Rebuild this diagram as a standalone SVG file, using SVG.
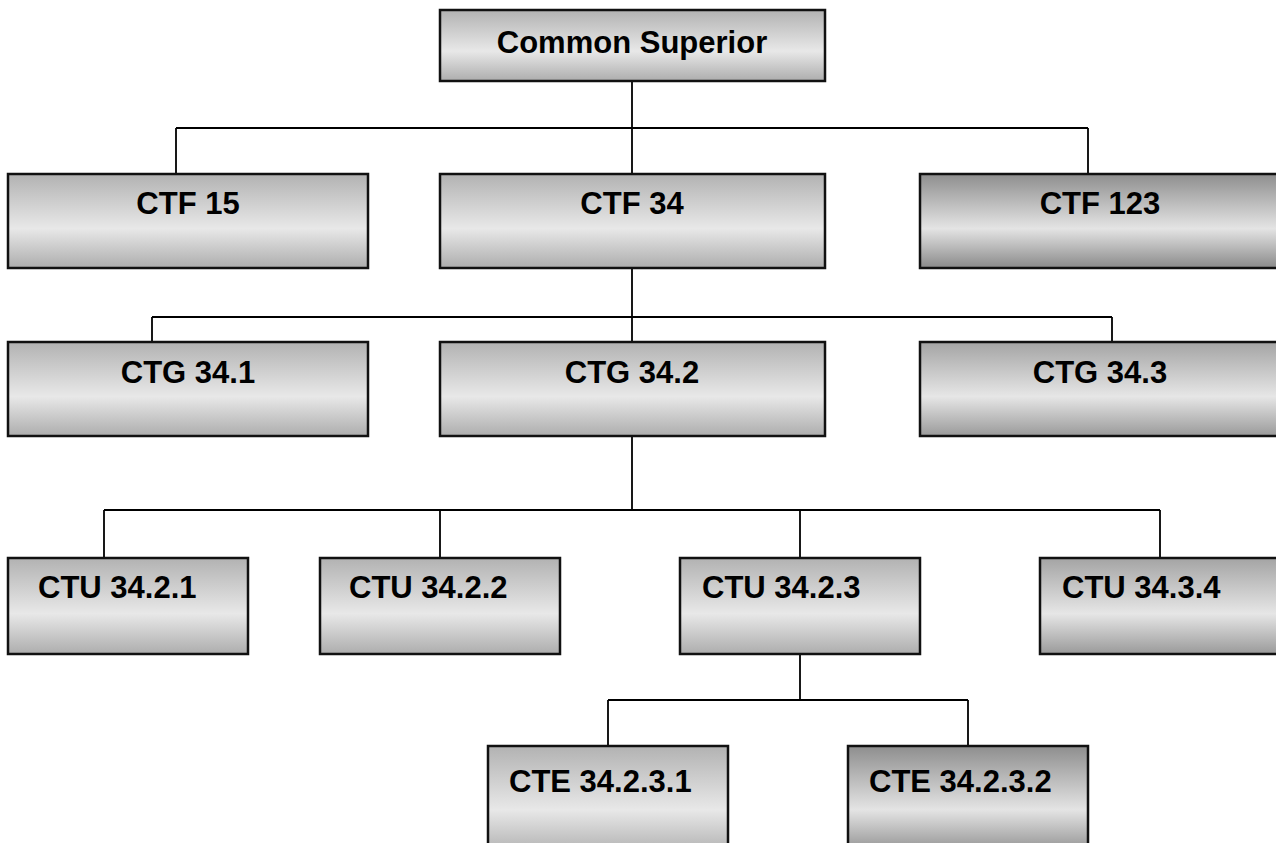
<svg xmlns="http://www.w3.org/2000/svg" width="1276" height="843" viewBox="0 0 1276 843">
  <defs>
    <linearGradient id="gLight" x1="0" y1="0" x2="0" y2="1">
      <stop offset="0" stop-color="#b2b2b2"/>
      <stop offset="0.58" stop-color="#e8e8e8"/>
      <stop offset="1" stop-color="#adadad"/>
    </linearGradient>
    <linearGradient id="gMid" x1="0" y1="0" x2="0" y2="1">
      <stop offset="0" stop-color="#a4a4a4"/>
      <stop offset="0.58" stop-color="#e6e6e6"/>
      <stop offset="1" stop-color="#9a9a9a"/>
    </linearGradient>
    <linearGradient id="gDark" x1="0" y1="0" x2="0" y2="1">
      <stop offset="0" stop-color="#8e8e8e"/>
      <stop offset="0.58" stop-color="#e4e4e4"/>
      <stop offset="1" stop-color="#8a8a8a"/>
    </linearGradient>
    <style>
      .box { stroke: #111; stroke-width: 2.5; }
      .light { fill: url(#gLight); }
      .mid { fill: url(#gMid); }
      .dark { fill: url(#gDark); }
      .lbl { font-family: "Liberation Sans", Arial, sans-serif; font-weight: bold; font-size: 31px; fill: #000; }
      .c { text-anchor: middle; }
      .wire { fill: none; stroke: #000; stroke-width: 1.8; }
    </style>
  </defs>

  <rect width="1276" height="843" fill="#fff"/>

  <!-- connectors -->
  <g id="connectors" class="wire">
    <path d="M632 81 V174 M176 128 H1088 M176 128 V174 M1088 128 V174"/>
    <path d="M632 268 V342 M152 317 H1112 M152 317 V342 M1112 317 V342"/>
    <path d="M632 436 V510 M104 510 H1160 M104 510 V558 M440 510 V558 M800 510 V558 M1160 510 V558"/>
    <path d="M800 654 V700 M608 700 H968 M608 700 V746 M968 700 V746"/>
  </g>

  <!-- top -->
  <g id="common-superior">
    <rect class="box light" x="440" y="10" width="385" height="71"/>
    <text class="lbl c" x="632" y="53">Common Superior</text>
  </g>

  <!-- CTF level -->
  <g id="ctf-15">
    <rect class="box light" x="8" y="174" width="360" height="94"/>
    <text class="lbl c" x="188" y="214">CTF 15</text>
  </g>
  <g id="ctf-34">
    <rect class="box light" x="440" y="174" width="385" height="94"/>
    <text class="lbl c" x="632" y="214">CTF 34</text>
  </g>
  <g id="ctf-123">
    <rect class="box dark" x="920" y="174" width="362" height="94"/>
    <text class="lbl c" x="1100" y="214">CTF 123</text>
  </g>

  <!-- CTG level -->
  <g id="ctg-34-1">
    <rect class="box light" x="8" y="342" width="360" height="94"/>
    <text class="lbl c" x="188" y="383">CTG 34.1</text>
  </g>
  <g id="ctg-34-2">
    <rect class="box light" x="440" y="342" width="385" height="94"/>
    <text class="lbl c" x="632" y="383">CTG 34.2</text>
  </g>
  <g id="ctg-34-3">
    <rect class="box mid" x="920" y="342" width="362" height="94"/>
    <text class="lbl c" x="1100" y="383">CTG 34.3</text>
  </g>

  <!-- CTU level -->
  <g id="ctu-34-2-1">
    <rect class="box light" x="8" y="558" width="240" height="96"/>
    <text class="lbl" x="38" y="598">CTU 34.2.1</text>
  </g>
  <g id="ctu-34-2-2">
    <rect class="box light" x="320" y="558" width="240" height="96"/>
    <text class="lbl" x="349" y="598">CTU 34.2.2</text>
  </g>
  <g id="ctu-34-2-3">
    <rect class="box light" x="680" y="558" width="240" height="96"/>
    <text class="lbl" x="702" y="598">CTU 34.2.3</text>
  </g>
  <g id="ctu-34-3-4">
    <rect class="box mid" x="1040" y="558" width="242" height="96"/>
    <text class="lbl" x="1062" y="598">CTU 34.3.4</text>
  </g>

  <!-- CTE level -->
  <g id="cte-34-2-3-1">
    <rect class="box light" x="488" y="746" width="240" height="110"/>
    <text class="lbl" x="509" y="792">CTE 34.2.3.1</text>
  </g>
  <g id="cte-34-2-3-2">
    <rect class="box dark" x="848" y="746" width="240" height="110"/>
    <text class="lbl" x="869" y="792">CTE 34.2.3.2</text>
  </g>
</svg>
